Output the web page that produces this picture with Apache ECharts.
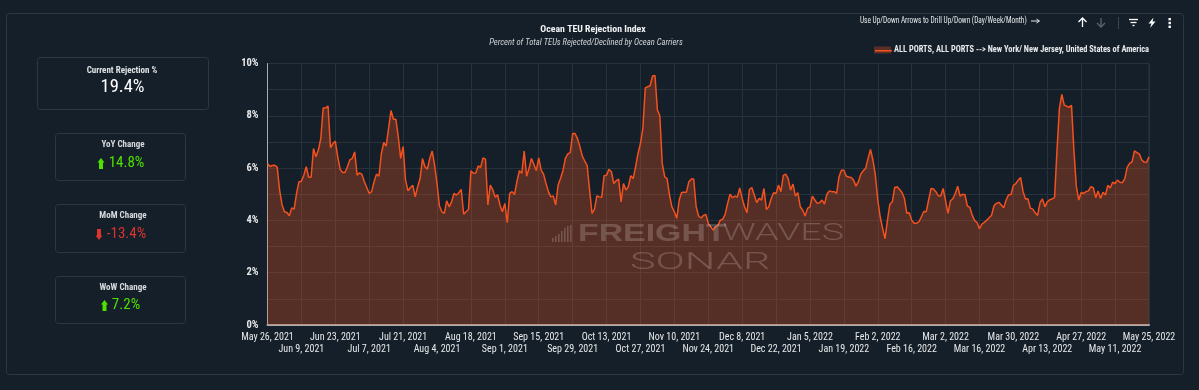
<!DOCTYPE html>
<html>
<head>
<meta charset="utf-8">
<style>html,body{margin:0;padding:0;background:#151f29}#c{width:1199px;height:390px}</style>
<script src="https://cdn.jsdelivr.net/npm/echarts@6/dist/echarts.min.js"></script>
</head>
<body>
<div id="c"></div>
<script>
const startDate = "2021-05-26";
const seriesName = "ALL PORTS, ALL PORTS --> New York/ New Jersey, United States of America";
const rejectionA = [
6.18,6.06,6.10,6.11,6.04,5.16,4.60,4.33,4.30,4.18,
4.48,4.43,5.03,5.48,5.50,5.73,6.05,5.65,5.65,6.75,
6.43,6.69,7.13,8.30,8.30,8.37,6.78,6.94,7.03,6.43,
5.95,5.83,5.83,6.05,6.31,6.37,6.62,5.73,5.82,5.76,
5.48,5.26,5.03,5.10,5.48,5.77,5.69,6.54,6.98,6.84,
7.52,8.20,7.87,7.87,7.20,6.37,6.82,5.54,5.13,5.26,
5.34,4.90,5.29,5.60,6.36,6.05,5.96,6.37,6.65,6.11,
5.41,4.55,4.33,4.27,4.75,4.52,4.71,5.03,4.97,5.06,
5.18,4.24,4.33,4.42,5.90,5.80,5.81,6.08,6.03,6.39,
6.34,4.59,5.35,5.18,4.89,4.98,4.59,4.33,4.65,3.91,
5.03,5.10,4.99,5.48,5.90,5.80,6.65,5.69,5.99,6.37,
6.14,5.90,6.39,5.92,5.77,5.41,5.10,4.90,4.93,4.59,
5.35,5.60,5.90,6.37,6.54,6.59];
const rejectionB = [
7.32,7.32,7.13,6.82,6.46,6.27,6.10,5.16,4.27,4.42,
4.94,4.90,4.88,5.71,5.73,5.95,5.86,5.41,5.52,5.58,
4.71,5.41,5.16,5.29,5.71,5.60,6.05,6.56,6.94,7.52,
9.07,9.11,9.15,9.52,9.54,8.22,8.00,6.18,5.67,5.60,
4.97,4.52,4.33,4.08,4.78,5.07,5.08,5.08,5.48,5.58,
5.58,4.52,4.17,4.09,4.19,4.23,3.89,3.76,3.63,3.76,
3.81,4.01,4.05,4.24,4.65,5.00,4.87,4.93,4.89,5.24,
4.84,4.52,4.29,5.18,5.26,4.97,4.68,4.84,4.78,5.22,
4.42,4.52,4.84,5.06,5.03,5.35,5.10,5.72,5.77,5.60,
5.16,5.39,4.93,5.06,4.52,4.39,4.17,4.46,4.52,4.93,
4.78,4.65,4.68,4.78,4.62,5.00,5.13,5.10,5.10,5.03,
5.67,5.92,5.92,5.69,5.66,5.64,5.54,5.31,5.48,5.77,
5.90,5.99,6.37,6.71,6.31,5.73,4.78,4.14];
const rejectionC = [
3.69,3.30,4.01,4.62,4.71,5.26,5.29,5.18,5.07,
4.84,4.27,4.29,4.01,3.89,3.89,3.95,4.14,4.34,4.33,
4.78,5.22,5.20,5.10,4.94,4.93,5.22,4.75,4.27,4.75,
4.83,5.03,5.31,4.93,5.00,4.98,4.55,4.50,4.20,3.99,
3.92,3.68,3.86,3.92,4.01,4.10,4.20,4.56,4.65,4.69,
4.59,4.48,4.78,4.98,4.99,5.34,5.41,5.54,5.64,5.10,
4.82,4.83,4.47,4.43,4.29,4.19,4.68,4.82,4.52,4.71,
4.79,4.82,4.87,6.66,8.28,8.82,8.41,8.37,8.32,8.40,
6.66,5.29,4.78,5.07,5.03,5.10,5.13,5.29,5.25,4.87,
5.12,4.84,5.08,4.97,5.34,5.24,5.46,5.41,5.54,5.46,
5.44,5.60,6.03,6.18,6.24,6.66,6.59,6.54,6.31,6.23,
6.22,6.43];
const tickLabels = ["May 26, 2021","Jun 9, 2021","Jun 23, 2021","Jul 7, 2021","Jul 21, 2021","Aug 4, 2021","Aug 18, 2021","Sep 1, 2021","Sep 15, 2021","Sep 29, 2021","Oct 13, 2021","Oct 27, 2021","Nov 10, 2021","Nov 24, 2021","Dec 8, 2021","Dec 22, 2021","Jan 5, 2022","Jan 19, 2022","Feb 2, 2022","Feb 16, 2022","Mar 2, 2022","Mar 16, 2022","Mar 30, 2022","Apr 13, 2022","Apr 27, 2022","May 11, 2022","May 25, 2022"];
const kpiLabels = ["Current Rejection %","YoY Change","MoM Change","WoW Change"];
const kpiValues = ["19.4%","14.8%","-13.4%","7.2%"];

const values = rejectionA.concat(rejectionB, rejectionC);
const categories = values.map((_, i) => {
  const d = new Date(startDate + "T00:00:00Z");
  d.setUTCDate(d.getUTCDate() + i);
  return d.toISOString().slice(0, 10);
});

const COND = '"Roboto Condensed","Roboto",sans-serif';
const BG = "#151f29", BORDER = "#2b3741", GRID = "#27323b", GREEN = "#4fe000", RED = "#d8352e";
const MARK = "rgba(255,255,255,0.19)";

function box(x, y, w, h) {
  return {type:"rect", shape:{x:x+.5, y:y+.5, width:w, height:h, r:3}, style:{fill:"transparent", stroke:BORDER, lineWidth:1}};
}
function txt(text, x, y, size, fill, opts) {
  opts = opts || {};
  return {type:"text", x, y, z:opts.z||10, scaleX:opts.sx||1, originX:0, originY:0,
    style:{text, fill, fontFamily:opts.ff||COND, fontSize:size, fontWeight:opts.w||"normal", fontStyle:opts.st||"normal",
      align:opts.a||"center", verticalAlign:"middle"}};
}
function arrowUp(cx, cy, color) {
  return {type:"polygon", shape:{points:[[cx,cy-6],[cx+3.5,cy-1.5],[cx+2,cy-1.5],[cx+2,cy+5],[cx-2,cy+5],[cx-2,cy-1.5],[cx-3.5,cy-1.5]]}, style:{fill:color}};
}
function arrowDown(cx, cy, color) {
  return {type:"polygon", shape:{points:[[cx,cy+6],[cx+3.5,cy+1.5],[cx+2,cy+1.5],[cx+2,cy-5],[cx-2,cy-5],[cx-2,cy+1.5],[cx-3.5,cy+1.5]]}, style:{fill:color}};
}
function stroke(points, color, w) {
  return {type:"polyline", shape:{points}, style:{stroke:color, lineWidth:w||1.3, fill:null}};
}

const graphics = [
  box(6, 13, 1177, 361),
  box(37, 57, 171, 52), box(55, 133, 130, 47), box(55, 204, 130, 48), box(55, 276, 130, 47),
  txt(kpiLabels[0], 122, 70.5, 9, "#dfe3e6", {w:"bold"}),
  txt(kpiValues[0], 122.5, 87, 18.5, "#ffffff"),
  txt(kpiLabels[1], 123, 144.5, 9, "#d5d9dc", {w:"bold"}),
  txt(kpiValues[1], 126.5, 163, 15, GREEN),
  arrowUp(101, 164, GREEN),
  txt(kpiLabels[2], 123, 215.5, 9, "#d5d9dc", {w:"bold"}),
  txt(kpiValues[2], 126.5, 234, 15, RED),
  arrowDown(99, 234, RED),
  txt(kpiLabels[3], 123, 287.5, 9, "#d5d9dc", {w:"bold"}),
  txt(kpiValues[3], 126, 305.5, 15, GREEN),
  arrowUp(104.5, 306, GREEN),
  txt("Ocean TEU Rejection Index", 593, 29.5, 9.8, "#f2f3f4", {w:"bold"}),
  txt("Percent of Total TEUs Rejected/Declined by Ocean Carriers", 586, 43, 8.6, "#cfd3d6", {st:"italic"}),
  txt("Use Up/Down Arrows to Drill Up/Down (Day/Week/Month)", 860, 21, 8.4, "#e6e8ea", {a:"left", sx:.875}),
  stroke([[1031,21],[1039,21]], "#e6e8ea", 1),
  stroke([[1036.5,19],[1039.5,21],[1036.5,23]], "#e6e8ea", 1),
  stroke([[1082.5,27],[1082.5,18]], "#ffffff", 1.3),
  stroke([[1078.5,22],[1082.5,18],[1086.5,22]], "#ffffff", 1.3),
  stroke([[1101,18],[1101,27]], "#5d6670", 1.3),
  stroke([[1097,23],[1101,27],[1105,23]], "#5d6670", 1.3),
  stroke([[1118.5,17],[1118.5,29]], "#3a4650", 1),
  stroke([[1129,19.5],[1138,19.5]], "#ffffff", 1.3),
  stroke([[1130.5,22.5],[1136.5,22.5]], "#ffffff", 1.3),
  stroke([[1132.5,25.5],[1134.5,25.5]], "#ffffff", 1.3),
  {type:"polygon", shape:{points:[[1153.5,17.5],[1148.5,23.5],[1151.5,23.5],[1150,28],[1155.5,21.5],[1152.5,21.5]]}, style:{fill:"#ffffff"}},
  {type:"rect", shape:{x:1168.5,y:18,width:2.4,height:2.4}, style:{fill:"#fff"}},
  {type:"rect", shape:{x:1168.5,y:21.8,width:2.4,height:2.4}, style:{fill:"#fff"}},
  {type:"rect", shape:{x:1168.5,y:25.6,width:2.4,height:2.4}, style:{fill:"#fff"}},
  {type:"rect", z:20, shape:{x:875,y:50,width:17,height:1.5}, style:{fill:"#f4511e"}},
  // watermark
  txt("FREIGHT", 578, 234, 24, MARK, {a:"left", ff:'"Liberation Sans",sans-serif', w:"bold", sx:1.41, z:50}),
  txt("WAVES", 722, 234, 24, MARK, {a:"left", ff:'"Roboto",sans-serif', w:"300", sx:1.57, z:50}),
  txt("SONAR", 630, 263, 24, MARK, {a:"left", ff:'"Roboto",sans-serif', w:"300", sx:1.8, z:50})
];
[[552,238],[555,236],[558,234],[561,231],[564,228],[567,226],[570,225]].forEach(p => {
  graphics.push({type:"rect", z:50, shape:{x:p[0], y:p[1], width:1.6, height:242-p[1]}, style:{fill:MARK}});
});

const chart = echarts.init(document.getElementById("c"));
chart.setOption({
  animation:false,
  backgroundColor:BG,
  textStyle:{fontFamily:COND},
  legend:{
    right:50, top:46, padding:0, itemWidth:17, itemHeight:7, itemGap:4, icon:"rect",
    itemStyle:{color:"#5b2f27"},
    textStyle:{color:"#e8eaec", fontSize:8.35, fontWeight:"bold", fontFamily:COND, padding:[1,0,0,-2]},
    data:[{name:seriesName}]
  },
  grid:{left:267.5, right:50, top:63.5, bottom:65, containLabel:false, show:true, borderColor:BORDER, borderWidth:1, backgroundColor:"transparent"},
  xAxis:[{
    type:"category", data:categories, boundaryGap:false,
    axisLine:{show:true, onZero:true, lineStyle:{color:"#a9adaf", width:2}},
    axisTick:{show:false},
    splitLine:{show:true, interval:13, lineStyle:{color:GRID, width:1}},
    axisLabel:{
      interval:27, showMinLabel:true, showMaxLabel:true, hideOverlap:false,
      color:"#e6e8ea", fontSize:10, margin:7, fontFamily:COND,
      formatter:(v,i)=>tickLabels[Math.round(i/14)]
    }
  },{
    type:"category", data:categories, boundaryGap:false, position:"bottom",
    axisLine:{show:false}, axisTick:{show:false}, splitLine:{show:false},
    axisLabel:{
      interval:(i)=>i%28===14, showMinLabel:true, showMaxLabel:true, hideOverlap:false,
      color:"#e6e8ea", fontSize:10, margin:19.5, fontFamily:COND,
      formatter:(v,i)=>tickLabels[Math.round(i/14)]
    }
  }],
  yAxis:{
    type:"value", min:0, max:10, interval:1,
    axisLine:{show:true, lineStyle:{color:"#a9adaf", width:1}},
    axisTick:{show:false},
    splitLine:{show:true, lineStyle:{color:GRID, width:1}},
    axisLabel:{color:"#e6e8ea", fontSize:10.5, fontWeight:"bold", margin:9, padding:[4,0,0,0], fontFamily:COND,
      formatter:v=> v%2===0 ? v+"%" : ""}
  },
  graphic:{elements:graphics},
  series:[{
    name:seriesName, type:"line", data:values, showSymbol:false, symbol:"none", smooth:false,
    lineStyle:{color:"#f4511e", width:1.5},
    itemStyle:{color:"#f4511e"},
    areaStyle:{color:"#f4511e", opacity:.29}
  }]
});
</script>
</body>
</html>
